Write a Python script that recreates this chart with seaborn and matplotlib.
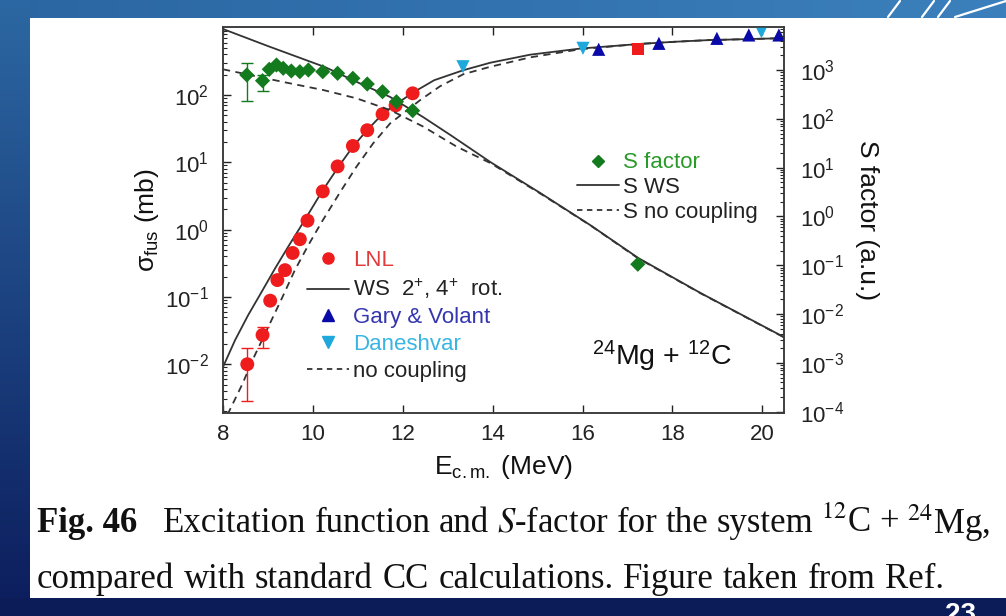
import numpy as np
import matplotlib
matplotlib.use("Agg")
import matplotlib.pyplot as plt
import seaborn as sns
from matplotlib.lines import Line2D
from matplotlib.ticker import FixedLocator, LogLocator, NullFormatter, LogFormatterSciNotation

# ---------------- data ----------------
# sigma_fus (mb), left axis
E_lnl = [8.54, 8.88, 9.05, 9.21, 9.38, 9.55, 9.71, 9.88, 10.22, 10.55, 10.89, 11.21, 11.55, 11.84, 12.22]
sig_lnl = [0.0100, 0.0272, 0.088, 0.178, 0.25, 0.45, 0.72, 1.36, 3.7, 8.7, 17.5, 30, 52, 70, 106]
E_lnl_err = [8.54, 8.88]
sig_lnl_err_val = [0.0100, 0.0272]
sig_lnl_err_lo = [0.00284, 0.0176]
sig_lnl_err_hi = [0.0176, 0.036]
E_lnl_hi = [17.23]
sig_lnl_hi = [478]

E_gary = [16.36, 17.70, 18.99, 19.70, 20.37]
sig_gary = [478, 586, 695, 780, 780]

E_dan = [13.34, 16.01, 19.98]
sig_dan = [263, 494, 871]

E_ws = [8.0, 8.27, 8.56, 8.86, 9.16, 9.45, 9.75, 10.05, 10.20, 10.57, 10.89, 11.21, 11.55, 11.82,
        12.22, 12.7, 13.35, 13.95, 14.84, 15.95, 17.29, 18.03, 18.77, 20.5]
sig_ws = [0.0091, 0.0229, 0.0537, 0.119, 0.266, 0.557, 1.17, 2.5, 3.66, 8.61, 17.1, 30.2, 52.2, 70.8,
          108, 166, 234, 302, 398, 490, 575, 617, 653, 700]

E_nc = [8.10, 8.42, 8.71, 9.01, 9.31, 9.60, 9.90, 10.20, 10.60, 10.97, 11.34, 11.72, 12.01, 12.39,
        12.83, 13.35, 13.95, 14.84, 15.95, 17.29, 18.03, 18.77, 20.5]
sig_nc = [0.00178, 0.0049, 0.0137, 0.0361, 0.0953, 0.251, 0.590, 1.31, 3.55, 8.61, 19.1, 37.9, 53.5, 84.3,
          135, 204, 263, 363, 479, 575, 617, 653, 700]

# S factor (a.u.), right axis
E_S = [8.53, 8.88, 9.03, 9.19, 9.34, 9.52, 9.71, 9.90, 10.22, 10.55, 10.89, 11.21, 11.55, 11.86, 12.22, 17.23]
S_data = [791, 604, 1033, 1265, 1084, 955, 923, 1000, 923, 855, 676, 516, 359, 224, 147, 0.105]
E_S_err = [8.53, 8.88]
S_err_val = [791, 604]
S_err_lo = [235, 377]
S_err_hi = [1412, 791]

E_Sws = [8.0, 9.0, 10.27, 10.98, 11.72, 12.45, 13.06, 13.95, 15.06, 16.17, 17.24, 18.63, 20.5]
S_ws = [6918, 3090, 1148, 568, 280, 109, 46.6, 13.0, 3.02, 0.667, 0.141, 0.0269, 0.00331]

E_Snc = [8.0, 9.0, 9.49, 10.23, 10.97, 11.72, 12.46, 13.2, 13.95, 15.06, 16.17, 17.24, 18.63, 20.5]
S_nc = [1033, 661, 533, 389, 263, 151, 68.9, 26.9, 12.4, 2.95, 0.661, 0.138, 0.0266, 0.00327]

x_ticks = [8, 10, 12, 14, 16, 18, 20]
left_major = [1e-2, 1e-1, 1e0, 1e1, 1e2]
right_major = [1e-4, 1e-3, 1e-2, 1e-1, 1e0, 1e1, 1e2, 1e3]

caption1_words = ["Excitation", "function", "and", "$S$-factor", "for", "the", "system",
                  "$^{12}$C", "+", "$^{24}$Mg,"]
caption2_words = ["compared", "with", "standard", "CC", "calculations.", "Figure", "taken", "from", "Ref."]

# ---------------- style ----------------
sns.set_theme(style="ticks")
plt.rcParams["font.family"] = ["Liberation Sans", "DejaVu Sans"]
plt.rcParams["mathtext.fontset"] = "custom"
plt.rcParams["mathtext.rm"] = "Liberation Sans"
plt.rcParams["mathtext.it"] = "Liberation Sans:italic"
plt.rcParams["mathtext.bf"] = "Liberation Sans:bold"
plt.rcParams["axes.unicode_minus"] = False

W, H = 1006, 616
fig = plt.figure(figsize=(W / 100, H / 100), dpi=100)

# slide background (decoration)
bg = np.ones((H, W, 3))
t = np.linspace(0, 1, W)[None, :, None]
top_l = np.array([0x2a, 0x66, 0xa2]) / 255
top_r = np.array([0x3b, 0x80, 0xbc]) / 255
bg[:18, :, :] = top_l * (1 - t) + top_r * t
v = np.linspace(0, 1, H)[:, None, None]
left_t = np.array([0x2c, 0x68, 0xa3]) / 255
left_b = np.array([0x0c, 0x1c, 0x5c]) / 255
bg[:, :30, :] = (left_t * (1 - v) + left_b * v).repeat(30, axis=1)
bg[598:, :, :] = np.array([0x0b, 0x1c, 0x58]) / 255
bgax = fig.add_axes([0, 0, 1, 1], zorder=-5)
bgax.imshow(bg, extent=(0, W, H, 0), aspect="auto")
bgax.set_xlim(0, W)
bgax.set_ylim(H, 0)
bgax.axis("off")
for x0 in (888, 922, 938):
    bgax.plot([x0, x0 + 12], [17, 1], color="white", lw=1.6)
bgax.plot([955, 1006], [17, 1], color="white", lw=1.6)

# main axes
ax = fig.add_axes([223 / W, 1 - 412.7 / H, 561.3 / W, 386 / H])
ax.set_facecolor("none")
line_c = "#333333"
red = "#ee1c1c"
green = "#137a1e"
blue = "#0a0aa8"
cyan = "#1fa8dc"

sns.lineplot(x=E_ws, y=sig_ws, ax=ax, color=line_c, lw=1.3, estimator=None, sort=False, zorder=2)
sns.lineplot(x=E_nc, y=sig_nc, ax=ax, color=line_c, lw=1.3, estimator=None, sort=False,
             linestyle=(0, (4, 3)), zorder=2)
ax.errorbar(E_lnl_err, sig_lnl_err_val,
            yerr=[np.array(sig_lnl_err_val) - np.array(sig_lnl_err_lo),
                  np.array(sig_lnl_err_hi) - np.array(sig_lnl_err_val)],
            fmt="none", ecolor=red, elinewidth=1.0, capsize=4, capthick=1.0, zorder=3)
sns.scatterplot(x=E_lnl, y=sig_lnl, ax=ax, marker="o", s=100, color=red, edgecolor="none", zorder=4, legend=False)
sns.scatterplot(x=E_lnl_hi, y=sig_lnl_hi, ax=ax, marker="s", s=75, color=red, edgecolor="none", zorder=4, legend=False)
sns.scatterplot(x=E_gary, y=sig_gary, ax=ax, marker="^", s=90, color=blue, edgecolor="none", zorder=4, legend=False)
sns.scatterplot(x=E_dan, y=sig_dan, ax=ax, marker="v", s=90, color=cyan, edgecolor="none", zorder=4, legend=False)

ax.set_yscale("log")
ax.set_xlim(8, 20.49)
ax.set_ylim(10 ** -2.72, 10 ** 3.015)

# twin axis for S factor
ax2 = ax.twinx()
sns.lineplot(x=E_Sws, y=S_ws, ax=ax2, color=line_c, lw=1.3, estimator=None, sort=False, zorder=2)
sns.lineplot(x=E_Snc, y=S_nc, ax=ax2, color=line_c, lw=1.3, estimator=None, sort=False,
             linestyle=(0, (4, 3)), zorder=2)
ax2.errorbar(E_S_err, S_err_val,
             yerr=[np.array(S_err_val) - np.array(S_err_lo), np.array(S_err_hi) - np.array(S_err_val)],
             fmt="none", ecolor=green, elinewidth=1.0, capsize=4, capthick=1.0, zorder=3)
sns.scatterplot(x=E_S, y=S_data, ax=ax2, marker="D", s=60, color=green, edgecolor="none", zorder=4, legend=False)
ax2.set_yscale("log")
ax2.set_ylim(10 ** -4.02, 10 ** 3.887)
ax2.set_xlim(8, 20.49)

# ticks
for a in (ax, ax2):
    for sp in a.spines.values():
        sp.set_color("#3a3a3a")
        sp.set_linewidth(1.1)
ax.xaxis.set_major_locator(FixedLocator(x_ticks))
ax.tick_params(axis="x", which="major", direction="in", length=5.5, width=1.0, top=True, bottom=True,
               labelsize=16, pad=8, colors="#222222")
ax.tick_params(axis="x", which="minor", bottom=False, top=False)
ax.yaxis.set_major_locator(FixedLocator(left_major))
ax.yaxis.set_major_formatter(LogFormatterSciNotation())
ax.yaxis.set_minor_locator(LogLocator(base=10, subs=np.arange(2, 10), numticks=50))
ax.yaxis.set_minor_formatter(NullFormatter())
ax.tick_params(axis="y", which="major", direction="in", length=5.5, width=1.0, left=True, right=False,
               labelsize=16, pad=10, colors="#222222")
ax.tick_params(axis="y", which="minor", direction="in", length=3, width=0.8, left=True, right=False)

ax2.yaxis.set_major_locator(FixedLocator(right_major))
ax2.yaxis.set_major_formatter(LogFormatterSciNotation())
ax2.yaxis.set_minor_locator(LogLocator(base=10, subs=np.arange(2, 10), numticks=50))
ax2.yaxis.set_minor_formatter(NullFormatter())
ax2.tick_params(axis="y", which="major", direction="in", length=5.5, width=1.0, right=True, left=False,
                labelsize=16, pad=11, colors="#222222")
ax2.tick_params(axis="y", which="minor", direction="in", length=3, width=0.8, right=True, left=False)

ax.set_xlabel(r"E$_{\rm c.m.}$ (MeV)", fontsize=19, labelpad=6, color="#111111")
ax.set_ylabel(r"σ$_{\rm fus}$ (mb)", fontsize=19, labelpad=3, color="#111111")
ax2.set_ylabel("S factor (a.u.)", fontsize=19, labelpad=8, rotation=270, va="bottom", color="#111111")

# legends
fs_leg = 16
h1 = [
    Line2D([], [], ls="none", marker="o", ms=8, color=red),
    Line2D([], [], color=line_c, lw=1.3),
    Line2D([], [], ls="none", marker="^", ms=8, color=blue),
    Line2D([], [], ls="none", marker="v", ms=8, color=cyan),
    Line2D([], [], color=line_c, lw=1.3, ls=(0, (3, 2.5))),
]
l1 = ["LNL", r"WS  2$^{+}$, 4$^{+}$  rot.", "Gary & Volant", "Daneshvar", "no coupling"]
leg1 = ax2.legend(h1, l1, loc="upper left", bbox_to_anchor=(306.7 / W, 1 - 250 / H),
                  bbox_transform=fig.transFigure, frameon=False, fontsize=fs_leg,
                  handlelength=1.9, handletextpad=0.2, labelspacing=0.26, borderpad=0, borderaxespad=0,
                  labelcolor=["#e23b3b", "#222222", "#3535b0", "#3ab4e2", "#222222"])
ax2.add_artist(leg1)
h2 = [
    Line2D([], [], ls="none", marker="D", ms=6.5, color=green),
    Line2D([], [], color=line_c, lw=1.3),
    Line2D([], [], color=line_c, lw=1.3, ls=(0, (3, 2.5))),
]
l2 = ["S factor", "S WS", "S no coupling"]
leg2 = ax2.legend(h2, l2, loc="upper left", bbox_to_anchor=(576.7 / W, 1 - 152.5 / H),
                  bbox_transform=fig.transFigure, frameon=False, fontsize=fs_leg,
                  handlelength=1.9, handletextpad=0.2, labelspacing=0.16, borderpad=0, borderaxespad=0,
                  labelcolor=["#2a9a2a", "#222222", "#222222"])

ax2.text(0.657, 0.145, r"$^{24}$Mg + $^{12}$C", transform=ax2.transAxes, fontsize=20.5,
         ha="left", va="center", color="#111111")

# caption (justified lines)
serif = ["Liberation Serif", "DejaVu Serif"]
cap_fs = 25
renderer = fig.canvas.get_renderer()


def justify(words, x0, x1, y):
    texts = [fig.text(0, 1 - y / H, w, fontfamily=serif, math_fontfamily="stix", fontsize=cap_fs,
                      va="center", ha="left", color="#111111") for w in words]
    widths = [tx.get_window_extent(renderer).width for tx in texts]
    gap = (x1 - x0 - sum(widths)) / (len(words) - 1)
    x = x0
    for tx, wd in zip(texts, widths):
        tx.set_x(x / W)
        x += wd + gap


fig.text(37 / W, 1 - 523 / H, "Fig. 46", fontfamily=serif, fontweight="bold", fontsize=cap_fs,
         va="center", ha="left", color="#111111")
justify(caption1_words, 163, 990, 523)
justify(caption2_words, 37, 944, 579)

fig.text(960 / W, 1 - 622 / H, "23", color="white", fontsize=20, fontweight="bold", ha="center",
         va="baseline")

fig.savefig("out.png", dpi=100)
